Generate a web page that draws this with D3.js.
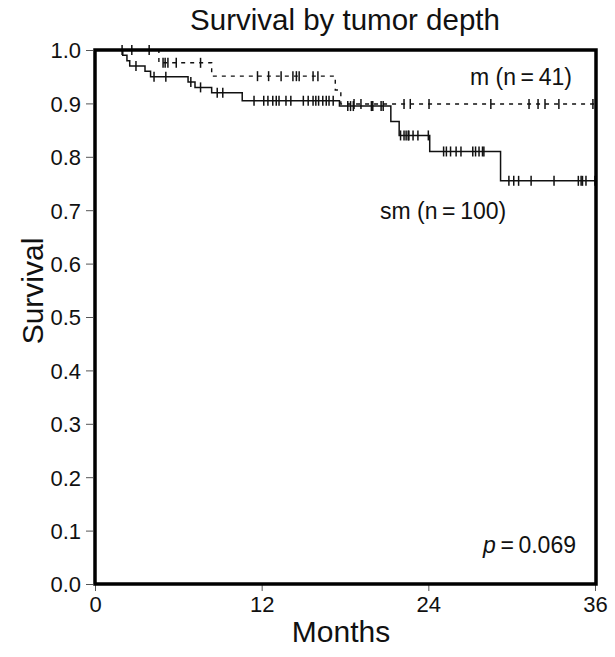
<!DOCTYPE html>
<html><head><meta charset="utf-8">
<script src="https://cdn.jsdelivr.net/npm/d3@7"></script>
<style>body{margin:0;background:#fff}svg{display:block}text{font-family:"Liberation Sans",Arial,sans-serif;fill:#111}</style>
</head><body><svg id="c" width="615" height="657"></svg>
<script>
// sm (n=100): step times (months) and survival after each drop
const smTimes = [0, 2.0, 2.3, 2.5, 3.6, 4.0, 6.7, 7.2, 8.4, 10.6, 17.6, 21.3, 21.9, 24.1, 29.2];
const smSurv  = [1, 0.99, 0.98, 0.97, 0.96, 0.95, 0.94, 0.93, 0.92, 0.905, 0.895, 0.866, 0.84, 0.81, 0.755];
const smCensor = [1.95, 2.95, 4.25, 5.1, 6.9, 7.6, 8.8, 9.2,
  11.45, 12.15, 12.45, 12.8, 13.05, 13.25, 13.75, 14.1, 15.0, 15.35, 15.7, 15.9, 16.1, 16.4, 16.65, 16.85, 17.15,
  18.2, 18.4, 18.6, 19.9, 20.0, 20.6, 20.75,
  22.0, 22.25, 22.4, 22.55, 22.6, 22.9, 23.25, 24.0,
  25.1, 25.3, 25.6, 26.0, 26.35, 27.2, 27.4, 27.65, 27.9, 28.0,
  29.8, 30.15, 30.5, 31.4, 33.05, 34.8, 35.0, 35.1, 35.35, 36.0];
// m (n=41)
const mTimes = [0, 4.6, 8.4, 17.3, 17.7];
const mSurv  = [1, 0.976, 0.951, 0.925, 0.899];
const mCensor = [2.65, 3.9, 4.9, 5.05, 5.25, 5.85, 7.6,
  11.7, 12.5, 13.4, 14.25, 14.5, 14.7, 15.7, 16.05,
  18.65, 19.15, 22.25, 22.7, 24.05, 28.5, 31.25, 31.9, 32.4, 33.4, 35.85];
const xTicks = [0, 12, 24, 36];
const yTicks = [0, 0.1, 0.2, 0.3, 0.4, 0.5, 0.6, 0.7, 0.8, 0.9, 1.0];
const title = "Survival by tumor depth";
const xLabel = "Months", yLabel = "Survival";
const tMax = 36;

const svg = d3.select("#c");
const x = d3.scaleLinear().domain([0, 36]).range([95, 595]);
const y = d3.scaleLinear().domain([0, 1]).range([584, 50]);

// axes
const yAxis = d3.axisLeft(y).tickValues(yTicks).tickFormat(d3.format(".1f")).tickSize(7).tickSizeOuter(0).tickPadding(5);
const gy = svg.append("g").attr("transform","translate(93,0)").call(yAxis);
gy.select(".domain").remove();
gy.selectAll("line").attr("stroke","#555");
gy.selectAll("text").style("font-size","22px").attr("dy","0.36em");

const xAxis = d3.axisBottom(x).tickValues(xTicks).tickSize(6).tickSizeOuter(0).tickPadding(5);
const gx = svg.append("g").attr("transform","translate(0,585)").call(xAxis);
gx.select(".domain").remove();
gx.selectAll("line").attr("stroke","#555");
gx.selectAll("text").style("font-size","22px");

function stepPath(times, surv){
  const pts = times.map((t,i)=>[t, surv[i]]);
  pts.push([tMax, surv[surv.length-1]]);
  return d3.line().x(d=>x(d[0])).y(d=>y(d[1])).curve(d3.curveStepAfter)(pts);
}
function survAt(times, surv, t){
  let s = surv[0];
  for (let i=0;i<times.length;i++) if (times[i] <= t) s = surv[i];
  return s;
}

svg.append("path").attr("d", stepPath(mTimes, mSurv)).attr("fill","none")
  .attr("stroke","#111").attr("stroke-width",1.4).attr("stroke-dasharray","4,5");
svg.append("path").attr("d", stepPath(smTimes, smSurv)).attr("fill","none")
  .attr("stroke","#111").attr("stroke-width",1.5);

function censor(times, surv, cs){
  svg.append("g").selectAll("line").data(cs).join("line")
    .attr("x1", d=>x(d)).attr("x2", d=>x(d))
    .attr("y1", d=>y(survAt(times, surv, d))-5).attr("y2", d=>y(survAt(times, surv, d))+5)
    .attr("stroke","#111").attr("stroke-width",1.5);
}
censor(mTimes, mSurv, mCensor);
censor(smTimes, smSurv, smCensor);

// frame
svg.append("rect").attr("x",95).attr("y",50).attr("width",501).attr("height",534)
  .attr("fill","none").attr("stroke","#000").attr("stroke-width",3.5);

svg.append("text").attr("x",345).attr("y",30).attr("text-anchor","middle").style("font-size","29.5px").text(title);
svg.append("text").attr("x",341).attr("y",642).attr("text-anchor","middle").style("font-size","30px").text(xLabel);
svg.append("text").attr("transform","translate(43,291) rotate(-90)").attr("text-anchor","middle").style("font-size","30px").text(yLabel);

svg.append("text").attr("x",470).attr("y",85).style("font-size","23px").text("m (n\u2009=\u200941)");
svg.append("text").attr("x",380).attr("y",219).style("font-size","23px").text("sm (n\u2009=\u2009100)");
const pt = svg.append("text").attr("x",576).attr("y",553).attr("text-anchor","end").style("font-size","23px");
pt.append("tspan").style("font-style","italic").text("p");
pt.append("tspan").text("\u2009=\u20090.069");
</script></body></html>
